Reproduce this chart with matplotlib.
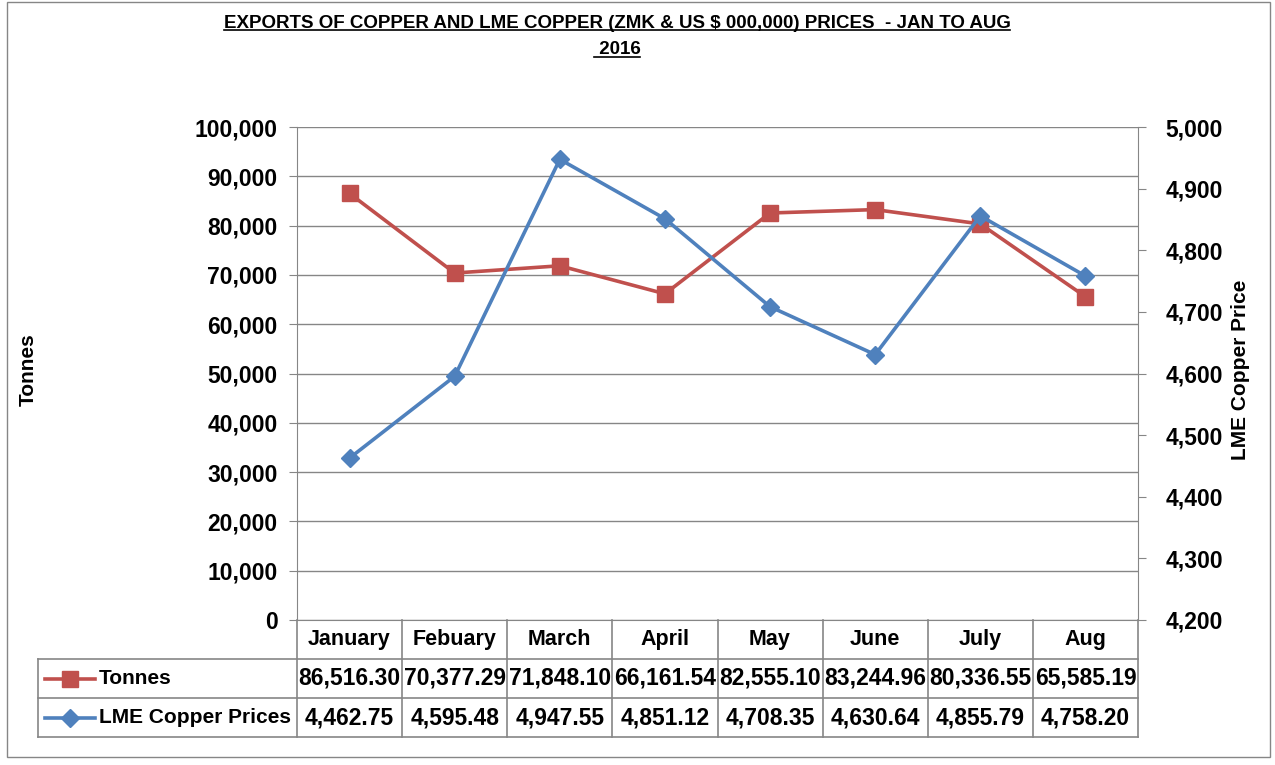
import numpy as np
import matplotlib
matplotlib.use('Agg')
import matplotlib.pyplot as plt
from matplotlib.lines import Line2D
from matplotlib.patches import Rectangle

plt.rcParams['font.family'] = ['Liberation Sans Narrow', 'Liberation Sans', 'DejaVu Sans']
plt.rcParams['font.weight'] = 'bold'

months = ['January', 'Febuary', 'March', 'April', 'May', 'June', 'July', 'Aug']
tonnes = [86516.30, 70377.29, 71848.10, 66161.54, 82555.10, 83244.96, 80336.55, 65585.19]
lme_prices = [4462.75, 4595.48, 4947.55, 4851.12, 4708.35, 4630.64, 4855.79, 4758.20]

red = '#C0504D'
blue = '#4F81BD'
gray = '#868686'

fig = plt.figure(figsize=(12.75, 7.65), dpi=100)
W, H = 1275, 765
ax_l, ax_r, ax_t, ax_b = 297, 1138, 127, 620
ax = fig.add_axes([ax_l / W, 1 - ax_b / H, (ax_r - ax_l) / W, (ax_b - ax_t) / H])
ax2 = ax.twinx()

x = np.arange(len(months))
ax.plot(x, tonnes, color=red, lw=2.6, marker='s', ms=12, zorder=3, clip_on=False)
ax2.plot(x, lme_prices, color=blue, lw=2.6, marker='D', ms=9.5, zorder=3, clip_on=False)

ax.set_xlim(-0.5, len(months) - 0.5)
ax.set_ylim(0, 100000)
ax.set_yticks(np.arange(0, 100001, 10000))
ax.set_yticklabels([f'{v:,}' for v in range(0, 100001, 10000)])
ax2.set_ylim(4200, 5000)
ax2.set_yticks(np.arange(4200, 5001, 100))
ax2.set_yticklabels([f'{v:,}' for v in range(4200, 5001, 100)])
ax.set_xticks([])

ax.grid(axis='y', color=gray, lw=1)
ax.set_axisbelow(True)
for a in (ax, ax2):
    for s in a.spines.values():
        s.set_visible(False)
    a.tick_params(axis='y', length=6, color=gray, labelsize=16.5, pad=8)
ax.spines['left'].set_visible(True)
ax.spines['left'].set_color(gray)
ax.spines['bottom'].set_visible(True)
ax.spines['bottom'].set_color(gray)
ax2.spines['right'].set_visible(True)
ax2.spines['right'].set_color(gray)
ax2.tick_params(axis='y', labelsize=16.5, pad=14)

fig.text(28 / W, 1 - 370 / H, 'Tonnes', rotation=90, ha='center', va='center', fontsize=15)
fig.text(1240 / W, 1 - 370 / H, 'LME Copper Price', rotation=90, ha='center', va='center', fontsize=15)

# data table under the axis
n = len(months)
rh = 39 / (ax_b - ax_t)
left_col = (38 - ax_l) / (ax_r - ax_l)
tr = ax.transAxes
def hline(y, x0, x1):
    ax.add_line(Line2D([x0, x1], [y, y], transform=tr, color=gray, lw=1.2, clip_on=False))
def vline(xx, y0, y1):
    ax.add_line(Line2D([xx, xx], [y0, y1], transform=tr, color=gray, lw=1.2, clip_on=False))

hline(-rh, left_col, 1)
hline(-2 * rh, left_col, 1)
hline(-3 * rh, left_col, 1)
for i in range(n + 1):
    vline(i / n, 0, -3 * rh)
vline(left_col, -rh, -3 * rh)

for i, m in enumerate(months):
    xc = (i + 0.5) / n
    ax.text(xc, -0.5 * rh, m, transform=tr, ha='center', va='center', fontsize=15.5)
    ax.text(xc, -1.5 * rh, f'{tonnes[i]:,.2f}', transform=tr, ha='center', va='center', fontsize=16.5)
    ax.text(xc, -2.5 * rh, f'{lme_prices[i]:,.2f}', transform=tr, ha='center', va='center', fontsize=16.5)

xl0 = (45 - ax_l) / (ax_r - ax_l)
xl1 = (95 - ax_l) / (ax_r - ax_l)
xt = (99 - ax_l) / (ax_r - ax_l)
for k, (lab, col, mk, ms) in enumerate([('Tonnes', red, 's', 12), ('LME Copper Prices', blue, 'D', 9.5)]):
    yy = -(1.5 + k) * rh
    ax.add_line(Line2D([xl0, xl1], [yy, yy], transform=tr, color=col, lw=2.6, clip_on=False))
    ax.add_line(Line2D([(xl0 + xl1) / 2], [yy], transform=tr, color=col, marker=mk, ms=ms, clip_on=False))
    ax.text(xt, yy, lab, transform=tr, ha='left', va='center', fontsize=15)

# title with underline
t1 = fig.text(617 / W, 1 - 23 / H, 'EXPORTS OF COPPER AND LME COPPER (ZMK & US $ 000,000) PRICES  - JAN TO AUG',
              ha='center', va='center', fontsize=13.5)
t2 = fig.text(617 / W, 1 - 50 / H, ' 2016', ha='center', va='center', fontsize=13.5)
fig.canvas.draw()
r = fig.canvas.get_renderer()
for t in (t1, t2):
    bb = t.get_window_extent(r)
    fig.add_artist(Line2D([bb.x0 / W, bb.x1 / W], [bb.y0 / H + 0.002, bb.y0 / H + 0.002],
                          transform=fig.transFigure, color='black', lw=1.2))

fig.add_artist(Rectangle((7 / W, 1 - 757 / H), 1263 / W, 755 / H, transform=fig.transFigure,
                         fill=False, edgecolor=gray, lw=1))

fig.savefig('out.png', dpi=100)
